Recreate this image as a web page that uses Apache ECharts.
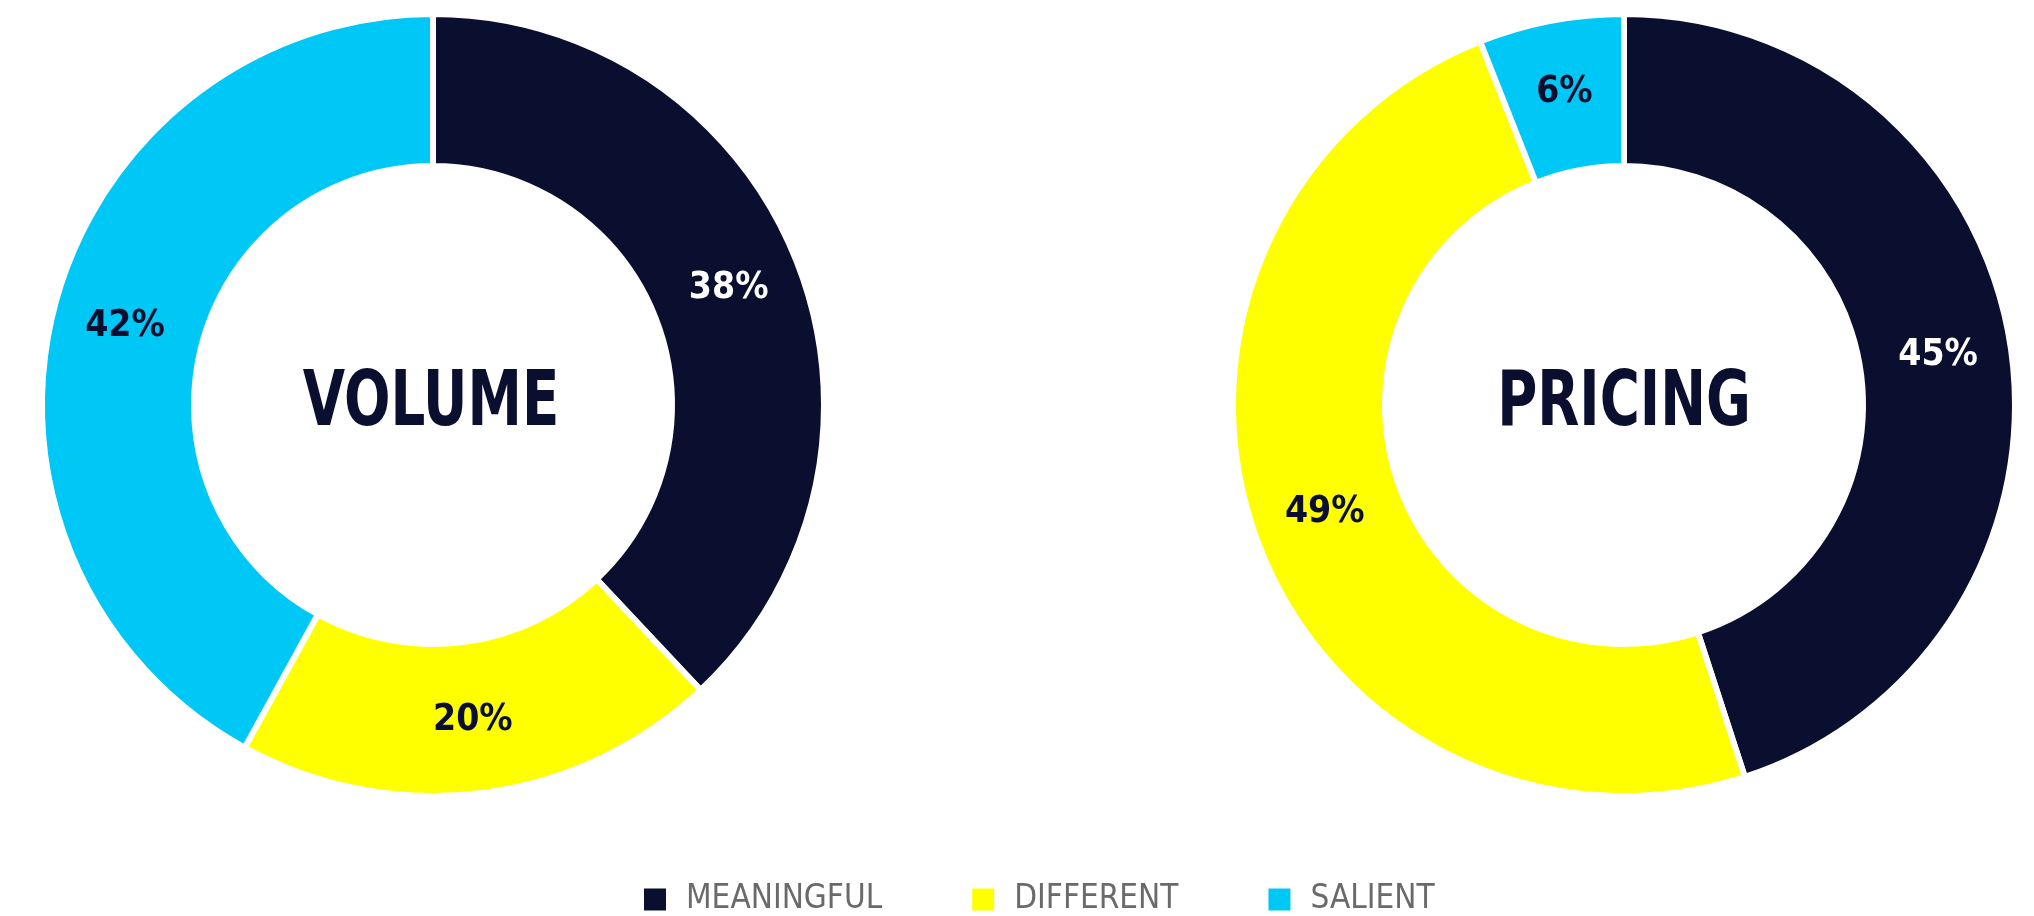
<!DOCTYPE html>
<html><head><meta charset="utf-8">
<style>html,body{margin:0;padding:0;background:#fff}#c{width:2034px;height:916px}</style>
<script src="https://cdn.jsdelivr.net/npm/echarts@6/dist/echarts.min.js"></script>
</head><body><div id="c"></div>
<script>
const categories = ['MEANINGFUL', 'DIFFERENT', 'SALIENT'];
const volumeValues = [38, 20, 42];
const pricingValues = [45, 49, 6];
const chartTitles = ['VOLUME', 'PRICING'];
const colors = ['#0b0f2f', '#ffff00', '#00c8f6'];
const labelColors = ['#ffffff', '#0b0f2f', '#0b0f2f'];
const condensed = '"DejaVu Sans Condensed", "Liberation Sans Narrow", sans-serif';

function makeData(vals) {
  return vals.map((v, i) => ({
    name: categories[i], value: v,
    itemStyle: { color: colors[i] },
    label: { color: labelColors[i] }
  }));
}
function pieSeries(vals, cx) {
  return {
    type: 'pie', center: [cx, 405], radius: [239, 391],
    startAngle: 90, clockwise: true, avoidLabelOverlap: false,
    itemStyle: { borderColor: '#ffffff', borderWidth: 6 },
    label: { show: true, position: 'inside', formatter: '{c}%', fontFamily: condensed, fontSize: 37, fontWeight: 'bold' },
    labelLine: { show: false },
    emphasis: { disabled: true },
    data: makeData(vals)
  };
}
function titleText(txt, cx) {
  return { type: 'text', x: cx, y: 405, scaleX: 0.8, originX: 0, originY: 0,
    style: { text: txt, fill: '#0b0f2f', font: 'bold 76px ' + condensed, align: 'center', verticalAlign: 'middle' } };
}
const chart = echarts.init(document.getElementById('c'));
chart.setOption({
  animation: false,
  legend: {
    top: 878, left: 637, itemWidth: 24, itemHeight: 24, itemGap: 88,
    icon: 'rect', data: categories,
    textStyle: { color: '#6a6a6a', fontSize: 33, fontFamily: condensed, padding: [0, 0, 0, 14] }
  },
  graphic: [ titleText(chartTitles[0], 431), titleText(chartTitles[1], 1624) ],
  series: [pieSeries(volumeValues, 433), pieSeries(pricingValues, 1624)]
});
</script></body></html>
